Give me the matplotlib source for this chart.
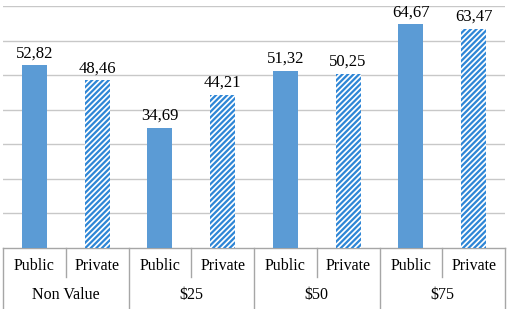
import matplotlib.pyplot as plt

groups = ['Non Value', '$25', '$50', '$75']
sectors = ['Public', 'Private']
public_vals = [52.82, 34.69, 51.32, 64.67]
private_vals = [48.46, 44.21, 50.25, 63.47]

plt.rcParams['font.family'] = ['Liberation Serif', 'DejaVu Serif']
plt.rcParams['hatch.linewidth'] = 1.6
blue = '#5B9BD5'
hatch_col = '#2E86D6'
line_col = '#A6A6A6'

fig = plt.figure(figsize=(5.12, 3.09), dpi=100)
ax = fig.add_axes([3 / 512, 61 / 309, 502 / 512, 242 / 309])

pub_x = [2 * i for i in range(len(groups))]
priv_x = [2 * i + 1 for i in range(len(groups))]
ax.bar(pub_x, public_vals, width=0.4, color=blue, zorder=3)
ax.bar(priv_x, private_vals, width=0.4, color='white', edgecolor=hatch_col,
       hatch='//////', linewidth=0, zorder=3)

def fmt(v):
    return f'{v:.2f}'.replace('.', ',')

for x, v in zip(pub_x + priv_x, public_vals + private_vals):
    ax.annotate(fmt(v), (x, v), xytext=(0, 3), textcoords='offset points',
                ha='center', va='bottom', fontsize=12)

ax.set_xlim(-0.5, 7.5)
ax.set_ylim(0, 70)
ax.set_yticks(range(10, 71, 10))
ax.yaxis.grid(True, color='#C8C8C8', linewidth=1)
ax.set_axisbelow(True)
ax.tick_params(left=False, bottom=False, labelleft=False, labelbottom=False)
for s in ax.spines.values():
    s.set_visible(False)

# category table below the axis
tr = ax.get_xaxis_transform()
ax.plot([-0.5, 7.5], [0, 0], color=line_col, lw=1, transform=tr, clip_on=False)
for g in range(len(groups) + 1):
    xb = 2 * g - 0.5
    ax.plot([xb, xb], [0, -0.26], color=line_col, lw=1, transform=tr, clip_on=False)
for g in range(len(groups)):
    ax.plot([2 * g + 0.5] * 2, [0, -0.12], color=line_col, lw=1, transform=tr, clip_on=False)
    for j, name in enumerate(sectors):
        ax.text(2 * g + j, -0.075, name, ha='center', va='center',
                fontsize=11.5, transform=tr)
    ax.text(2 * g + 0.5, -0.195, groups[g], ha='center', va='center',
            fontsize=11.5, transform=tr)

fig.savefig('out.png', dpi=100)
